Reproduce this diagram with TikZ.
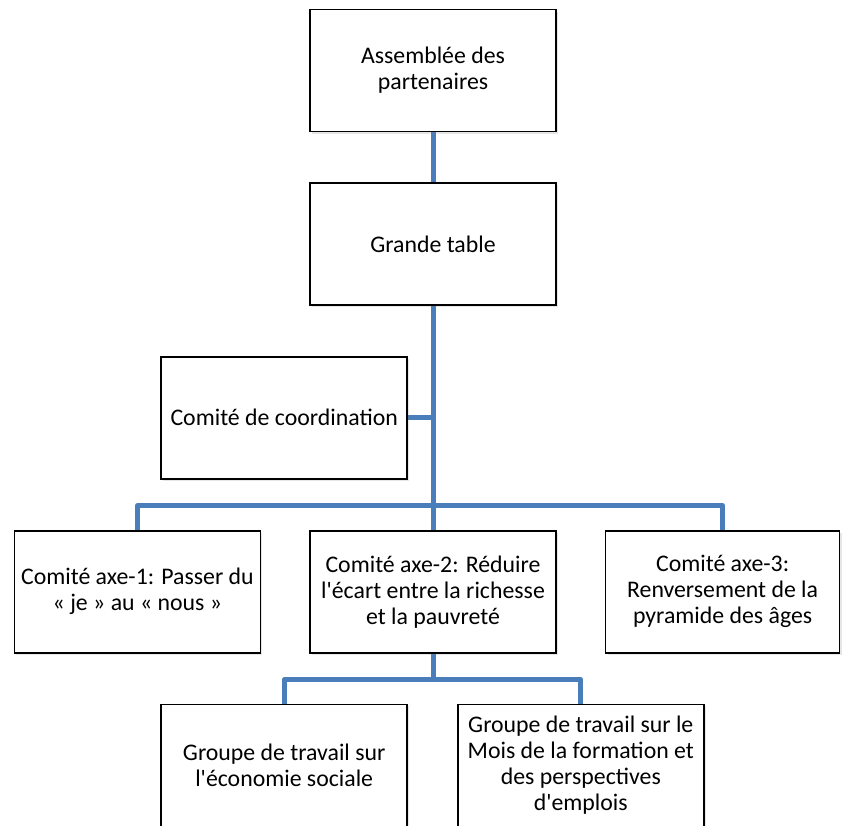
\documentclass[tikz,border=0pt]{standalone}
\usepackage{fontspec}
\setmainfont{Carlito}[Ligatures=TeXOff]
\usepackage{tikz}
\usetikzlibrary{positioning,shadows}
\pgfdeclarelayer{background layer}
\pgfsetlayers{background layer,main}
\definecolor{linkblue}{RGB}{74,126,187}

\begin{document}
\begin{tikzpicture}
[align=center,x=1pt,y=1pt]
\tikzstyle{unit}=[fill=white,draw,line width=1.6pt,minimum width=246pt,minimum height=122pt,inner sep=2pt,font=\fontsize{23.8}{26}\selectfont,drop shadow={shadow xshift=2pt,shadow yshift=-2pt,opacity=0.2}]
\tikzstyle{link}=[draw=linkblue,line width=5pt,line join=round]

\useasboundingbox (0,0) rectangle (843,-825);

\draw node [unit] at (433,-70.5) (assemblee) {Assemblée des\\partenaires};
\draw node [unit,below=50pt of assemblee] (grande) {Grande table};
\draw node [unit,below left=50pt and 25pt of grande.south] (coord) {Comité de coordination};
\draw node [unit,below=224pt of grande] (axe2) {Comité axe-2: Réduire\\l'écart entre la richesse\\et la pauvreté};
\draw node [unit,left=48pt of axe2] (axe1) {Comité axe-1: Passer du\\« je » au « nous »};
\draw node [unit,right=48pt of axe2,minimum width=234pt] (axe3) {Comité axe-3:\\Renversement de la\\pyramide des âges};
\draw node [unit,below left=50pt and 25pt of axe2.south] (groupe1) {Groupe de travail sur\\l'économie sociale};
\draw node [unit,below right=50pt and 24pt of axe2.south] (groupe2) {Groupe de travail sur le\\Mois de la formation et\\des perspectives\\d'emplois};

\coordinate (bus1) at ([yshift=24pt]axe2.north);
\coordinate (bus2) at ([yshift=-26pt]axe2.south);

\begin{pgfonlayer}{background layer}
\draw [link] (assemblee) -- (grande);
\draw [link] (grande.south) -- (axe2.north);
\draw [link] (coord.east) -- (coord.east -| grande.south);
\draw [link] (axe1.north) |- (bus1) -| (axe3.north);
\draw [link] (axe2.south) -- (bus2);
\draw [link] (groupe1.north) |- (bus2) -| (groupe2.north);
\end{pgfonlayer}

\end{tikzpicture}
\end{document}
